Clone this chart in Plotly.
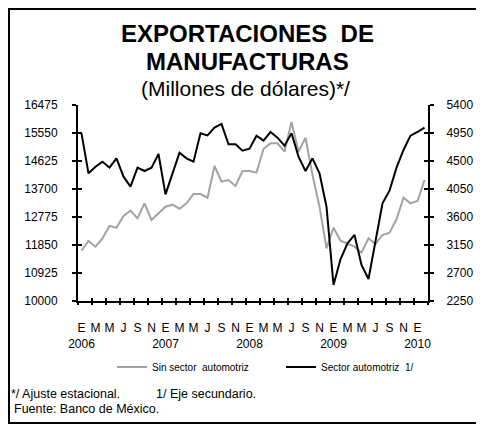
import plotly.graph_objects as go

# ---------------- data ----------------
month_initials = ["E", "F", "M", "A", "M", "J", "J", "A", "S", "O", "N", "D"]
years = [2006, 2007, 2008, 2009, 2010]
periods = [(y, m) for y in years for m in range(12)][:50]   # Ene 2006 - Feb 2010

# Sin sector automotriz (eje principal, millones de dólares)
sin_sector = [11663, 11982, 11795, 12070, 12478, 12423, 12808, 12984, 12731, 13226,
              12676, 12896, 13116, 13182, 13050, 13226, 13535, 13535, 13414, 14460,
              13942, 13997, 13799, 14295, 14295, 14240, 15021, 15208, 15208, 14933,
              15913, 14933, 15396, 14163, 13116, 11740, 12423, 11993, 11905, 11795,
              11597, 12070, 11883, 12180, 12257, 12698, 13414, 13226, 13304, 13997]

# Sector automotriz (eje secundario)
sector_auto = [4945, 4302, 4409, 4489, 4393, 4543, 4248, 4088, 4393, 4339,
               4393, 4613, 3964, 4302, 4634, 4543, 4489, 4945, 4912, 5036,
               5095, 4768, 4768, 4666, 4698, 4907, 4827, 4966, 4875, 4746,
               4945, 4570, 4339, 4543, 4302, 3766, 2507, 2920, 3177, 3311,
               2829, 2604, 3204, 3820, 4023, 4393, 4677, 4907, 4966, 5036]

left_range = [10000, 16475]
left_step = 925
right_range = [2250, 5400]
right_step = 450

# ---------------- derived ----------------
n = len(periods)
xs = list(range(n))
label_idx = list(range(0, n, 2))
label_txt = [month_initials[periods[i][1]] + ("<br>%d" % periods[i][0] if periods[i][1] == 0 else "")
             for i in label_idx]
boundaries = [i - 0.5 for i in range(0, n + 1, 2)]

# the page body has an 8px margin, so the figure is drawn from (8, 8) of the window
OFF = 8
W, H = 484 - OFF, 426 - OFF
L, R, T, B = 78 - OFF, 484 - 428, 105 - OFF, 426 - 301
PW, PH = W - L - R, H - T - B


def px(x):   # window pixel -> paper fraction
    return (x - OFF - L) / PW


def py(y):
    return (H - B - (y - OFF)) / PH


FONT = "Liberation Sans, Arial, sans-serif"
GRAY = "#a3a3a3"

fig = go.Figure()
fig.add_trace(go.Scatter(x=xs, y=sin_sector, mode="lines", name="Sin sector  automotriz",
                         line=dict(color=GRAY, width=2), xaxis="x", yaxis="y"))
fig.add_trace(go.Scatter(x=xs, y=sector_auto, mode="lines", name="Sector automotriz  1/",
                         line=dict(color="black", width=2), xaxis="x", yaxis="y2"))
# invisible helpers so the tick-crossing overlay axes are drawn
fig.add_trace(go.Scatter(x=xs, y=sin_sector, mode="lines", opacity=0, showlegend=False,
                         hoverinfo="skip", xaxis="x2", yaxis="y3"))
fig.add_trace(go.Scatter(x=xs, y=sector_auto, mode="lines", opacity=0, showlegend=False,
                         hoverinfo="skip", xaxis="x3", yaxis="y4"))

xr = [-0.5, n - 0.5]
tickfont = dict(family=FONT, size=12, color="black")
common = dict(showgrid=False, zeroline=False, automargin=False)

fig.update_layout(
    width=W, height=H,
    margin=dict(l=L, r=R, t=T, b=B, pad=0, autoexpand=False),
    paper_bgcolor="white", plot_bgcolor="white",
    font=dict(family=FONT, color="black"),
    xaxis=dict(range=xr, tickmode="array", tickvals=label_idx, ticktext=label_txt,
               ticks="", showline=True, tickangle=0,
               linecolor="black", linewidth=2, tickfont=dict(family=FONT, size=12),
               ticklabelstandoff=15, **common),
    xaxis2=dict(range=xr, overlaying="x", anchor="y", side="bottom", tickmode="array",
                tickvals=boundaries, ticks="outside", ticklen=3, tickwidth=2,
                tickcolor="black", showticklabels=False, showline=False, **common),
    xaxis3=dict(range=xr, overlaying="x", anchor="y", side="bottom", tickmode="array",
                tickvals=boundaries, ticks="inside", ticklen=3, tickwidth=2,
                tickcolor="black", showticklabels=False, showline=False, **common),
    yaxis=dict(range=left_range, dtick=left_step, tick0=left_range[0], ticks="outside",
               ticklen=4, tickwidth=2, tickcolor="black", tickformat="d",
               showline=True, linecolor="black", linewidth=2, tickfont=tickfont,
               ticklabelstandoff=12, **common),
    yaxis2=dict(range=right_range, dtick=right_step, tick0=right_range[0], overlaying="y",
                side="right", anchor="x", ticks="outside", ticklen=4, tickwidth=2,
                tickcolor="black", tickformat="d", showline=True,
                linecolor="black", linewidth=2, tickfont=tickfont, ticklabelstandoff=10,
                **common),
    yaxis3=dict(range=left_range, dtick=left_step, tick0=left_range[0], overlaying="y",
                side="left", anchor="x2", ticks="inside", ticklen=4, tickwidth=2,
                tickcolor="black", showticklabels=False, showline=False, **common),
    yaxis4=dict(range=right_range, dtick=right_step, tick0=right_range[0], overlaying="y",
                side="right", anchor="x3", ticks="inside", ticklen=4, tickwidth=2,
                tickcolor="black", showticklabels=False, showline=False, **common),
    legend=dict(orientation="h", x=px(112), y=py(367), xanchor="left", yanchor="middle",
                font=dict(family=FONT, size=10, color="black"), bgcolor="rgba(0,0,0,0)",
                entrywidth=124, entrywidthmode="pixels", itemwidth=30,
                tracegroupgap=0),
    showlegend=True,
)

# border around the whole picture
fig.add_shape(type="rect", xref="paper", yref="paper",
              x0=px(9), x1=px(479), y0=py(423), y1=py(9),
              line=dict(color="black", width=2), fillcolor="rgba(0,0,0,0)", layer="above")

ann = [
    dict(text="<b>EXPORTACIONES  DE</b>", x=px(247), y=py(33), size=24, xanchor="center"),
    dict(text="<b>MANUFACTURAS</b>", x=px(247), y=py(62), size=24, xanchor="center"),
    dict(text="(Millones de dólares)*/", x=px(245), y=py(88), size=21, xanchor="center"),
    dict(text="*/ Ajuste estacional.", x=px(10), y=py(394), size=12.5, xanchor="left"),
    dict(text="1/ Eje secundario.", x=px(155), y=py(394), size=12.5, xanchor="left"),
    dict(text="Fuente: Banco de México.", x=px(13), y=py(408.5), size=12.5, xanchor="left"),
]
for a in ann:
    fig.add_annotation(text=a["text"], x=a["x"], y=a["y"], xref="paper", yref="paper",
                       xanchor=a["xanchor"], yanchor="middle", showarrow=False,
                       borderpad=0,
                       font=dict(family=FONT, size=a["size"], color="black"))

fig.write_html("out.html")
